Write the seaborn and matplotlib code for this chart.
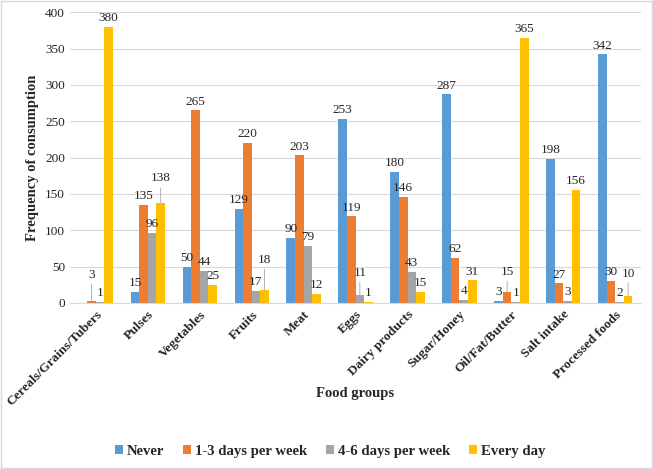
import pandas as pd
import seaborn as sns
import matplotlib.pyplot as plt
import numpy as np

# Values
food_groups = [
    "Cereals/Grains/Tubers", "Pulses", "Vegetables", "Fruits", "Meat", "Eggs",
    "Dairy products", "Sugar/Honey", "Oil/Fat/Butter", "Salt intake", "Processed foods",
]
series = ["Never", "1-3 days per week", "4-6 days per week", "Every day"]
never = [0, 15, 50, 129, 90, 253, 180, 287, 3, 198, 342]
one_to_three = [3, 135, 265, 220, 203, 119, 146, 62, 15, 27, 30]
four_to_six = [1, 96, 44, 17, 79, 11, 43, 4, 1, 3, 2]
every_day = [380, 138, 25, 18, 12, 1, 15, 31, 365, 156, 10]

colors = ["#5B9BD5", "#ED7D31", "#A5A5A5", "#FFC000"]

# labels pulled up with a leader line (category index, series index) -> extra px
leader_offsets = {(0, 1): 16, (1, 3): 14, (3, 3): 20, (5, 2): 12, (8, 1): 10, (10, 3): 12}

df = pd.DataFrame({
    "group": np.repeat(food_groups, len(series)),
    "freq": np.tile(series, len(food_groups)),
    "value": np.ravel(np.column_stack([never, one_to_three, four_to_six, every_day])),
})

sns.set_style("white")
plt.rcParams["font.family"] = ["Liberation Serif", "DejaVu Serif"]

fig = plt.figure(figsize=(6.53, 4.69), dpi=100)
ax = fig.add_axes([0.107, 0.354, 0.875, 0.62])

sns.barplot(data=df, x="group", y="value", hue="freq", hue_order=series,
            order=food_groups, palette=colors, width=0.66, saturation=1,
            linewidth=0, ax=ax, legend=True)

ax.set_ylim(0, 400)
ax.set_yticks(range(0, 401, 50))
ax.yaxis.grid(True, color="#D9D9D9", linewidth=0.8)
ax.set_axisbelow(True)
for s in ["top", "right", "left"]:
    ax.spines[s].set_visible(False)
ax.spines["bottom"].set_color("#D9D9D9")
ax.set_xlim(-0.5, len(food_groups) - 0.5)

# Excel-style tick marks between categories
ax.set_xticks(np.arange(len(food_groups)))
ax.set_xticklabels(food_groups, rotation=45, ha="right", rotation_mode="anchor",
                   fontsize=9.6, fontweight="bold")
ax.set_xticks(np.arange(-0.5, len(food_groups)), minor=True)
ax.tick_params(axis="x", which="major", length=0, pad=4)
ax.tick_params(axis="x", which="minor", length=5, color="#D9D9D9")
ax.tick_params(axis="y", length=0, labelsize=9.5)

ax.set_ylabel("Frequency of consumption", fontsize=10.5, fontweight="bold")
ax.set_xlabel("Food groups", fontsize=10.5, fontweight="bold")
ax.xaxis.set_label_coords(0.5, -0.29)

# value labels
for j, cont in enumerate(ax.containers):
    for i, bar in enumerate(cont):
        val = bar.get_height()
        if val == 0:
            continue
        x = bar.get_x() + bar.get_width() / 2
        extra = leader_offsets.get((i, j), 0)
        if extra:
            ax.annotate(str(int(val)), xy=(x, val), xytext=(0, 3 + extra * 0.72),
                        textcoords="offset points", ha="center", va="bottom",
                        fontsize=9.5,
                        arrowprops=dict(arrowstyle="-", color="#A6A6A6", lw=0.6,
                                        shrinkA=0, shrinkB=0))
        else:
            ax.annotate(str(int(val)), xy=(x, val), xytext=(0, 2),
                        textcoords="offset points", ha="center", va="bottom",
                        fontsize=9.5)

leg = ax.legend(loc="center", bbox_to_anchor=(0.455, -0.51), ncol=4,
                frameon=False, handlelength=0.55, handleheight=0.55,
                handletextpad=0.25, columnspacing=1.3,
                prop={"weight": "bold", "size": 10.6})

# light frame around the whole figure
fig.patches.append(plt.Rectangle((0.002, 0.002), 0.996, 0.996, transform=fig.transFigure,
                                 fill=False, edgecolor="#D9D9D9", linewidth=1))

fig.savefig("out.png", dpi=100)
